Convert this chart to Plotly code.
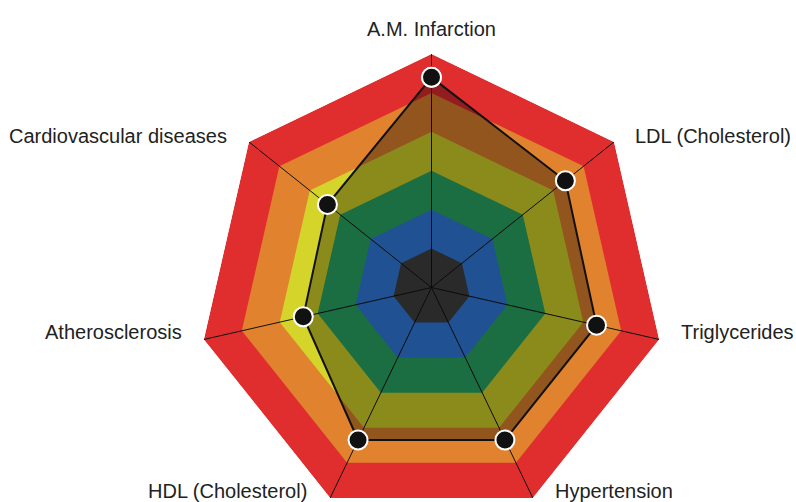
import plotly.graph_objs as go

categories = ["A.M. Infarction", "LDL (Cholesterol)", "Triglycerides", "Hypertension",
              "HDL (Cholesterol)", "Atherosclerosis", "Cardiovascular diseases"]
values = [5.4, 4.4, 4.35, 4.35, 4.35, 3.38, 3.42]

# band levels (outer radius of each ring) and their colours
band_levels = [6, 5, 4, 3, 2, 1]
band_colors = ["#e02d2e", "#e0822e", "#d4d42a", "#29a764", "#307ce0", "#414141"]

# label placement on the page (px): x, y, anchor
label_pos = [(431.7, 29, "center"), (633, 136, "left"), (679, 332, "left"),
             (553, 491, "left"), (309, 491, "right"), (184, 332, "right"),
             (229, 136, "right")]

W, H = 796, 521
ML, MR, MT, MB = 100, 33, 54, 0


def closed(seq):
    return list(seq) + [seq[0]]


def to_paper(px, py):
    return (px - ML) / (W - ML - MR), 1 - (py - MT) / (H - MT - MB)


fig = go.Figure()

for lvl, col in zip(band_levels, band_colors):
    fig.add_trace(go.Scatterpolar(
        r=closed([lvl] * len(categories)),
        theta=closed(categories),
        mode="lines",
        line=dict(width=0, color=col),
        fill="toself",
        fillcolor=col,
        hoverinfo="skip",
        showlegend=False,
    ))

# spokes
spoke_r, spoke_t = [], []
for c in categories:
    spoke_r += [0, band_levels[0], None]
    spoke_t += [c, c, None]
fig.add_trace(go.Scatterpolar(
    r=spoke_r, theta=spoke_t, mode="lines",
    line=dict(color="#111111", width=1),
    hoverinfo="skip", showlegend=False,
))

fig.add_trace(go.Scatterpolar(
    r=closed(values),
    theta=closed(categories),
    mode="lines+markers",
    fill="toself",
    fillcolor="rgba(0,0,0,0.34)",
    line=dict(color="#111111", width=2),
    marker=dict(size=19, color="#111111", line=dict(color="white", width=2)),
    showlegend=False,
))

annotations = []
for name, (px, py, anchor) in zip(categories, label_pos):
    ax, ay = to_paper(px, py)
    annotations.append(dict(
        text=name, x=ax, y=ay, xref="paper", yref="paper",
        xanchor=anchor, yanchor="middle", showarrow=False,
        font=dict(size=20, color="#222222"),
    ))

fig.update_layout(
    width=W, height=H,
    margin=dict(l=ML, r=MR, t=MT, b=MB),
    paper_bgcolor="white",
    font=dict(family="Liberation Sans, Arial, sans-serif", color="#222222"),
    annotations=annotations,
    polar=dict(
        bgcolor="rgba(0,0,0,0)",
        gridshape="linear",
        radialaxis=dict(visible=False, range=[0, 6]),
        angularaxis=dict(
            rotation=90, direction="clockwise",
            showgrid=False, showline=False, ticks="",
            showticklabels=False,
        ),
    ),
)

# chart runs past the bottom of the window: no page margin, no scrolling
fig.write_html("out.html", config={"displayModeBar": False},
               post_script="document.body.style.margin='0';document.body.style.overflow='hidden';")
